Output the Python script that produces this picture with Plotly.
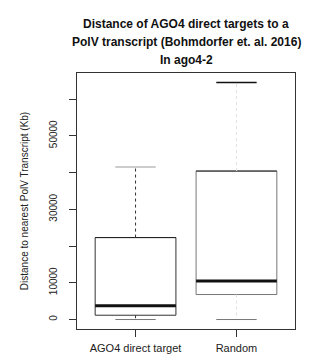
import plotly.graph_objects as go

# ---- data ----
categories = ["AGO4 direct target", "Random"]
lower_whisker = [0, 0]
q1 = [1170, 6800]
median = [3730, 10500]
q3 = [22300, 40400]
upper_whisker = [41500, 64500]

y_tick_vals = [0, 10000, 20000, 30000, 40000, 50000, 60000]
y_tick_text = ["0", "10000", "", "30000", "", "50000", ""]

title_lines = ["Distance of AGO4 direct targets to a",
               "PolV transcript (Bohmdorfer et. al. 2016)",
               "In ago4-2"]

BOXHALF = 0.4
CAPHALF = 0.2

W, H = 321, 358
ML, MR, MT, MB = 69, 34, 65, 37
PLOT_H = H - MT - MB

fig = go.Figure()
for i, cat in enumerate(categories):
    xc = i + 1
    fig.add_trace(go.Scatter(
        x=[xc - BOXHALF, xc + BOXHALF, xc + BOXHALF, xc - BOXHALF, xc - BOXHALF],
        y=[q1[i], q1[i], q3[i], q3[i], q1[i]],
        mode="lines", line=dict(color="#333333" if i == 0 else "#777777", width=1),
        fill="toself", fillcolor="white", showlegend=False, hoverinfo="skip"))
    fig.add_trace(go.Scatter(
        x=[xc - BOXHALF, xc + BOXHALF], y=[q3[i], q3[i]],
        mode="lines", line=dict(color="#222222", width=1),
        showlegend=False, hoverinfo="skip"))
    fig.add_trace(go.Scatter(
        x=[xc - BOXHALF, xc + BOXHALF], y=[median[i], median[i]],
        mode="lines", line=dict(color="#111111", width=3),
        showlegend=False, hoverinfo="skip"))
    fig.add_trace(go.Scatter(
        x=[xc, xc, None, xc, xc],
        y=[q3[i], upper_whisker[i], None, q1[i], lower_whisker[i]],
        mode="lines", line=dict(color="#333333" if i == 0 else "#e0e0e0", width=1, dash="dot"),
        showlegend=False, hoverinfo="skip"))
    fig.add_trace(go.Scatter(
        x=[xc - CAPHALF, xc + CAPHALF], y=[upper_whisker[i], upper_whisker[i]],
        mode="lines", line=dict(color="#999999" if i == 0 else "#111111", width=1 if i == 0 else 1.5),
        showlegend=False, hoverinfo="skip"))
    fig.add_trace(go.Scatter(
        x=[xc - CAPHALF, xc + CAPHALF], y=[lower_whisker[i], lower_whisker[i]],
        mode="lines", line=dict(color="#777777", width=1),
        showlegend=False, hoverinfo="skip"))

ymax = max(upper_whisker)
ymin = min(lower_whisker)
pad = 0.04 * (ymax - ymin)

title_centers_px = [16, 34, 52]
for txt, yp in zip(title_lines, title_centers_px):
    fig.add_annotation(
        text=txt, xref="paper", x=0.5, xanchor="center",
        yref="paper", y=1 + (MT - yp) / PLOT_H, yanchor="middle",
        showarrow=False,
        font=dict(family="Liberation Sans, Arial, sans-serif",
                  size=12, color="#111111", weight="bold"))

fig.update_layout(
    width=W, height=H,
    margin=dict(l=ML, r=MR, t=MT, b=MB),
    paper_bgcolor="white", plot_bgcolor="white",
    font=dict(family="Liberation Sans, Arial, sans-serif", color="#222222", size=10),
    xaxis=dict(
        range=[0.42, 2.58], tickmode="array", tickvals=[1, 2], ticktext=categories,
        showline=True, linecolor="#333333", linewidth=1, mirror=True,
        ticks="outside", ticklen=7, tickcolor="#333333", showgrid=False, zeroline=False,
        tickfont=dict(size=11), ticklabelstandoff=2),
    yaxis=dict(
        range=[ymin - pad, ymax + pad], tickmode="array", tickvals=y_tick_vals, ticktext=y_tick_text,
        tickangle=-90, showline=True, linecolor="#333333", linewidth=1, mirror=True,
        ticks="outside", ticklen=7, tickcolor="#333333", showgrid=False, zeroline=False,
        tickfont=dict(size=10), ticklabelstandoff=8,
        title=dict(text="Distance to nearest PolV Transcript (Kb)", font=dict(size=10), standoff=17)),
)

fig.write_html("out.html")
